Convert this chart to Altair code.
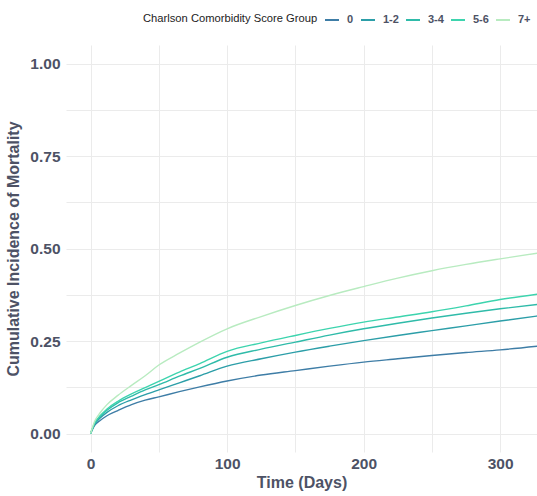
import altair as alt
import pandas as pd

days = [0, 3, 7, 12, 20, 30, 40, 50, 65, 80, 100, 125, 150, 175, 200, 225, 250, 275, 300, 330]
groups = ["0", "1-2", "3-4", "5-6", "7+"]
g0 = [0, 0.022, 0.035, 0.048, 0.062, 0.078, 0.090, 0.099, 0.113, 0.126, 0.142, 0.158, 0.170, 0.182, 0.193, 0.202, 0.211, 0.219, 0.226, 0.237]
g12 = [0, 0.025, 0.042, 0.057, 0.075, 0.091, 0.105, 0.118, 0.137, 0.156, 0.182, 0.202, 0.220, 0.236, 0.251, 0.265, 0.278, 0.291, 0.304, 0.319]
g34 = [0, 0.027, 0.046, 0.063, 0.083, 0.101, 0.118, 0.132, 0.155, 0.176, 0.206, 0.228, 0.247, 0.266, 0.283, 0.298, 0.312, 0.325, 0.337, 0.350]
g56 = [0, 0.028, 0.048, 0.066, 0.087, 0.107, 0.124, 0.141, 0.166, 0.189, 0.222, 0.245, 0.265, 0.284, 0.301, 0.315, 0.329, 0.345, 0.362, 0.378]
g7 = [0, 0.033, 0.056, 0.078, 0.103, 0.130, 0.156, 0.185, 0.217, 0.247, 0.283, 0.316, 0.346, 0.373, 0.397, 0.420, 0.440, 0.457, 0.472, 0.489]
colors = ["#3E7DA6", "#2C9EA8", "#2FBBA9", "#3DD4AE", "#B8EBC0"]

rows = []
for g, vals in zip(groups, [g0, g12, g34, g56, g7]):
    for d, v in zip(days, vals):
        rows.append({"Time": d, "CI": v, "Group": g})
df = pd.DataFrame(rows)

txt = "#4D5265"
font = "Liberation Sans"

chart = alt.Chart(df).mark_line(strokeWidth=1.4, clip=True, interpolate="monotone").encode(
    x=alt.X("Time:Q", scale=alt.Scale(domain=[-18, 327], nice=False, zero=False),
            axis=alt.Axis(title="Time (Days)", values=[0, 50, 100, 150, 200, 250, 300],
                          labelExpr="datum.value % 100 == 0 ? datum.label : ''",
                          format="d")),
    y=alt.Y("CI:Q", scale=alt.Scale(domain=[-0.05, 1.05], nice=False, zero=False),
            axis=alt.Axis(title="Cumulative Incidence of Mortality",
                          values=[0, 0.125, 0.25, 0.375, 0.5, 0.625, 0.75, 0.875, 1.0],
                          labelExpr="(datum.value * 4) % 1 == 0 ? format(datum.value, '.2f') : ''")),
    color=alt.Color("Group:N", scale=alt.Scale(domain=groups, range=colors),
                    legend=alt.Legend(title="Charlson Comorbidity Score Group", orient="none",
                                      legendX=77, legendY=-33, direction="horizontal",
                                      titleOrient="left", titleFontSize=11.2, titleFontWeight="normal",
                                      titleColor="#222222", titleFont=font, titlePadding=6,
                                      labelFont=font, labelFontSize=11, labelFontWeight="bold",
                                      labelColor=txt, symbolType="stroke", symbolSize=196,
                                      symbolStrokeWidth=2, columnPadding=3, labelOffset=7)),
).properties(
    width=471, height=407,
    autosize=alt.AutoSizeParams(type="none"),
    padding={"left": 66, "top": 45, "right": 0, "bottom": 44},
).configure_view(stroke=None).configure_axis(
    domain=False, ticks=False, grid=True, gridColor="#EBEBEB", gridWidth=1,
    labelFont=font, labelFontSize=15.5, labelFontWeight="bold", labelColor=txt,
    titleFont=font, titleFontSize=16, titleFontWeight="bold", titleColor=txt,
).configure_axisY(labelPadding=6, titlePadding=8).configure_axisX(labelPadding=4, titlePadding=3)

chart.save("out.html", embed_options={"renderer": "svg", "actions": False})
